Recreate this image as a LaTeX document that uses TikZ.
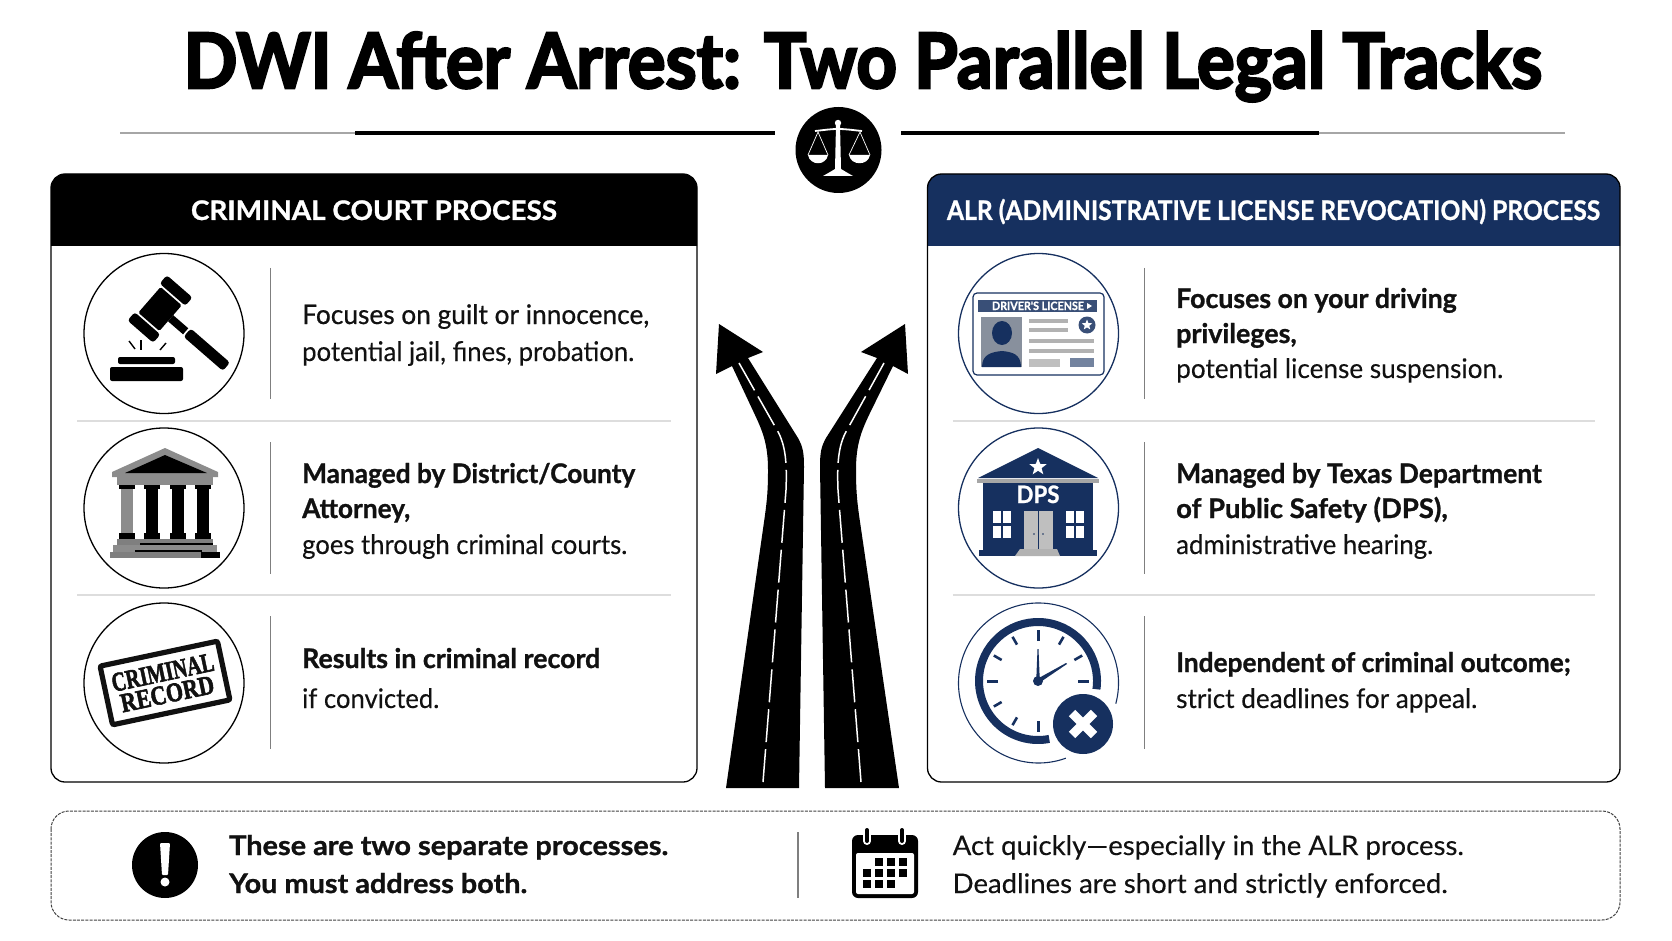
\documentclass[tikz,border=0pt]{standalone}
\usepackage{fontspec}
\setmainfont{Lato}
\newfontfamily\titlefont[FakeBold=3.4]{Lato Bold}
\newfontfamily\boldfont[FakeBold=1.0]{Lato Bold}
\newfontfamily\medfont[FakeBold=0.7]{Lato}
\newfontfamily\bodyfont[FakeBold=0.25]{Lato}
\newfontfamily\stampfont[FakeBold=2.2]{Liberation Serif Bold}
\usetikzlibrary{shapes.geometric}
\definecolor{navy}{HTML}{16305F}
\definecolor{ink}{HTML}{111111}
\definecolor{sepgray}{HTML}{DDDDDD}
\definecolor{stonegray}{HTML}{7F7F7F}
\newcommand{\fitw}[2]{\resizebox{#1pt}{\height}{#2}}

\begin{document}
\begin{tikzpicture}
[x=1pt,y=-1pt,
 txt/.style={anchor=base west,inner sep=0pt,text=ink},
 plaintxt/.style={txt,font=\bodyfont\fontsize{27}{30}\selectfont},
 medtxt/.style={txt,font=\medfont\fontsize{27}{30}\selectfont},
 boldtxt/.style={txt,font=\boldfont\fontsize{27}{30}\selectfont},
 headtxt/.style={anchor=base,inner sep=0pt,text=white,font=\boldfont\fontsize{27}{30}\selectfont},
 stamptxt/.style={anchor=base,inner sep=0pt,transform shape,text=ink,font=\stampfont\fontsize{27}{28}\selectfont},
 ring/.style={draw=black,line width=1.3pt},
 navyring/.style={draw=navy,line width=1.3pt},
 panel/.style={draw=black,line width=1.3pt,rounded corners=14pt},
 sep/.style={draw=stonegray,line width=1.1pt},
 rowline/.style={draw=sepgray,line width=1.8pt},
 lane/.style={draw=white,line width=1.5pt,dash pattern=on 33pt off 7pt}]

\useasboundingbox (0,0) rectangle (1672,941);

% title and rule
\draw (183.5,88) node (title) [txt,font=\titlefont\fontsize{76}{80}\selectfont,text=black]
	{\fitw{1358}{DWI After Arrest: Two Parallel Legal Tracks}};
\draw [gray!70,line width=1.6pt] (120,133) -- (355,133);
\draw [gray!70,line width=1.6pt] (1319,133) -- (1565,133);
\draw [black,line width=3.6pt] (355,133) -- (775,133);
\draw [black,line width=3.6pt] (901,133) -- (1319,133);

% scales
\fill [black] (838.5,150) circle (43);
\fill [white] (838,123) circle (3.2);
\fill [white] (836,125) -- (840,125) -- (841,169) -- (846,172) -- (853,176) -- (823,176) -- (830,172) -- (835,169) -- cycle;
\draw [white,line width=1.8pt] (815,131) .. controls (825,130) and (830,129) .. (838,129) .. controls (846,129) and (852,130) .. (862,131);
\draw [white,line width=0.7pt] (808,155) -- (818,132) -- (828,155);
\draw [white,line width=0.7pt] (849,155) -- (860,132) -- (870,155);
\fill [white] (808,155) .. controls (810,166) and (826,166) .. (828,155) -- cycle;
\fill [white] (849,155) .. controls (851,166) and (868,166) .. (870,155) -- cycle;

% left panel
\fill [black,rounded corners=14pt] (51,246) -- (51,174) -- (697,174) -- (697,246) [sharp corners] -- (697,246) -- cycle;
\fill [black] (51,200) rectangle (697,246);
\draw [panel] (51,174) rectangle (697,782);
\draw (374,220) node (crimhead) [headtxt] {\fitw{366}{CRIMINAL COURT PROCESS}};
\draw [rowline] (77,421) -- (671,421);
\draw [rowline] (77,595) -- (671,595);
\foreach \y in {333.5,508,683}
	\draw [ring] (164,\y) circle (80);
\draw [sep] (270.5,268) -- (270.5,399);
\draw [sep] (270.5,442) -- (270.5,574);
\draw [sep] (270.5,616) -- (270.5,749);

\draw (302,324) node (crima) [medtxt] {\fitw{347}{Focuses on guilt or innocence,}};
\draw (302,361) node (crimb) [plaintxt] {\fitw{332}{potential jail, fines, probation.}};
\draw (302,483) node (crimc) [boldtxt] {\fitw{333}{Managed by District/County}};
\draw (302,518) node (crimd) [boldtxt] {\fitw{108}{Attorney,}};
\draw (302,554) node (crime) [plaintxt] {\fitw{325}{goes through criminal courts.}};
\draw (302,668) node (crimf) [boldtxt] {\fitw{298}{Results in criminal record}};
\draw (302,708) node (crimg) [plaintxt] {\fitw{137}{if convicted.}};

% gavel
\begin{scope}[shift={(160,309)},rotate=-41]
\fill [black,rounded corners=1.5pt] (-14,-17) rectangle (14,17);
\fill [black,rounded corners=3pt] (-17,19) rectangle (17,30);
\fill [black,rounded corners=3pt] (-17,-30) rectangle (17,-19);
\fill [black] (14,-4) rectangle (34,4);
\fill [black,rounded corners=3pt] (36,-5.5) rectangle (88,5.5);
\end{scope}
\fill [black,rounded corners=2pt] (118,357) rectangle (175,364);
\fill [black,rounded corners=2pt] (110,367) rectangle (183,381);
\draw [black,line width=1.4pt] (129,341) -- (135,349);
\draw [black,line width=1.4pt] (141,340) -- (141,350);
\draw [black,line width=1.4pt] (166,343) -- (160,350);

% courthouse
\fill [stonegray!90] (165,448) -- (218,472) -- (218,477) -- (112,477) -- (112,472) -- cycle;
\fill [black] (165,455) -- (207,473) -- (125,473) -- cycle;
\fill [stonegray!90] (117,477) rectangle (213,485);
\foreach \x in {127,152,178,203} {
	\fill [black] (\x-8,485) rectangle (\x+8,489);
	\fill [black] (\x-6,489) rectangle (\x+6,533);
	\fill [black] (\x-8,533) rectangle (\x+8,539);
}
\fill [stonegray!90] (121,489) rectangle (133,533);
\fill [stonegray] (117,539) rectangle (213,545);
\fill [stonegray!90] (113,545) rectangle (217,552);
\fill [stonegray] (110,552) rectangle (220,558);
\draw [black,line width=1.2pt] (140,544) -- (213,544);
\draw [black,line width=1.2pt] (135,551) -- (202,551);
\fill [black] (201,552) rectangle (220,558);

% stamp
\begin{scope}[shift={(165,683)},rotate=12]
\draw [ink,line width=5.2pt,rounded corners=2pt] (-60,-30) rectangle (60,30);
\draw (0,-2) node (stampa) [stamptxt] {\fitw{104}{CRIMINAL}};
\draw (0,20) node (stampb) [stamptxt] {\fitw{95}{RECORD}};
\end{scope}

% right panel
\fill [navy,rounded corners=14pt] (927.5,246) -- (927.5,174) -- (1620,174) -- (1620,246) [sharp corners] -- (1620,246) -- cycle;
\fill [navy] (927.5,200) rectangle (1620,246);
\draw [panel] (927.5,174) rectangle (1620,782);
\draw (1273.5,220) node (alrhead) [headtxt] {\fitw{653}{ALR (ADMINISTRATIVE LICENSE REVOCATION) PROCESS}};
\draw [rowline] (952.5,421) -- (1595,421);
\draw [rowline] (952.5,595) -- (1595,595);
\draw [navyring] (1038.5,333.5) circle (80);
\draw [navyring] (1038.5,508) circle (80);
\draw [sep] (1144.5,268) -- (1144.5,399);
\draw [sep] (1144.5,442) -- (1144.5,574);
\draw [sep] (1144.5,616) -- (1144.5,749);

\draw (1176,308) node (alra) [boldtxt] {\fitw{280.5}{Focuses on your driving}};
\draw (1176,343) node (alrb) [boldtxt] {\fitw{120.5}{privileges,}};
\draw (1176,378) node (alrc) [plaintxt] {\fitw{327}{potential license suspension.}};
\draw (1176,483) node (alrd) [boldtxt] {\fitw{365.5}{Managed by Texas Department}};
\draw (1176,518) node (alre) [boldtxt] {\fitw{271.5}{of Public Safety (DPS),}};
\draw (1176,554) node (alrf) [plaintxt] {\fitw{257}{administrative hearing.}};
\draw (1176,672) node (alrg) [boldtxt] {\fitw{394.5}{Independent of criminal outcome;}};
\draw (1176,708) node (alrh) [plaintxt] {\fitw{301}{strict deadlines for appeal.}};

% licence card
\draw [navy,line width=1.2pt,rounded corners=4pt] (973,293) rectangle (1104,375);
\fill [navy!85] (978,300) rectangle (1097,312);
\draw (1038,310) node (cardhead) [anchor=base,inner sep=0pt,text=white,font=\boldfont\fontsize{11.5}{12}\selectfont] {\fitw{92}{DRIVER'S LICENSE}};
\fill [white] (1087,303) -- (1092,306) -- (1087,309) -- cycle;
\fill [navy!40!gray!70] (981,317) rectangle (1022,367);
\fill [navy] (1002,333) ellipse (10 and 12);
\fill [navy] (982,367) .. controls (982,354) and (992,352) .. (1002,351) .. controls (1012,352) and (1021,354) .. (1021,367) -- cycle;
\fill [gray!60] (1029,319) rectangle (1068,323);
\fill [gray!60] (1029,328) rectangle (1068,332);
\fill [gray!60] (1029,339) rectangle (1094,343);
\fill [gray!60] (1029,349) rectangle (1094,353);
\fill [gray!50] (1029,359) rectangle (1060,367);
\fill [navy!60] (1070,358) rectangle (1094,367);
\fill [navy!85] (1087,325) circle (8.5);
\draw (1087,325) node (cardstar) [star,star points=5,star point ratio=2.3,fill=white,minimum size=11pt,inner sep=0pt] {};

% dps building
\fill [navy] (1038,448) -- (1098,478) -- (978,478) -- cycle;
\draw (1038,467) node (dpsstar) [star,star points=5,star point ratio=2.4,fill=white,minimum size=18pt,inner sep=0pt] {};
\fill [gray!70] (977,479) rectangle (1099,483);
\fill [navy] (983,483) rectangle (1093,550);
\fill [navy] (979,550) rectangle (1097,556);
\draw (1038,503) node (dpstxt) [anchor=base,inner sep=0pt,text=white,font=\boldfont\fontsize{24}{26}\selectfont] {\fitw{43}{DPS}};
\fill [gray!50] (1024,511) rectangle (1053,549);
\draw [navy,line width=1pt] (1038.5,511) -- (1038.5,549);
\fill [navy] (1034,534) circle (0.9);
\fill [navy] (1043,534) circle (0.9);
\fill [gray!60] (1020,549) -- (1057,549) -- (1060,556) -- (1015,556) -- cycle;
\foreach \x in {993,1066} {
	\fill [white] (\x,511) rectangle (\x+8,523);
	\fill [white] (\x+10,511) rectangle (\x+18,523);
	\fill [white] (\x,526) rectangle (\x+8,538);
	\fill [white] (\x+10,526) rectangle (\x+18,538);
}

% clock
\draw [navy,line width=1.1pt] ([shift={(-15:80pt)}]1038.5,683) arc [start angle=-15,end angle=290,radius=80pt];
\draw [navy,line width=8pt] ([shift={(-8:59pt)}]1038,681) arc [start angle=-8,end angle=281,radius=59pt];
\begin{scope}[shift={(1038,681)}]
\foreach \a in {0,90,180,270}
	\draw [navy,line width=3pt] (\a:40pt) -- (\a:51pt);
\foreach \a in {30,60,120,150,210,240,300,330}
	\draw [navy,line width=2.6pt] (\a:42pt) -- (\a:51pt);
\fill [navy] (-1.8,0) -- (-0.5,-32) -- (0.5,-32) -- (1.8,0) -- cycle;
\fill [navy] (-1,-2) -- (28,-18) -- (29,-17) -- (1,2) -- cycle;
\fill [navy] (0,0) circle (5);
\end{scope}
\fill [white] (1083,724) circle (34);
\fill [navy] (1083,724) circle (30);
\draw [white,line width=9pt] (1072,713) -- (1094,735);
\draw [white,line width=9pt] (1094,713) -- (1072,735);

% roads
\fill [black] (726,788) -- (799,788) -- (804,467) .. controls (804,453) and (803,447) .. (798,438) -- (748,358)
	-- (763,352) -- (719,324) -- (716,374) -- (732,366) -- (755,415) .. controls (763,432) and (768,445) .. (768,470) .. controls (768,490) and (767,500) .. (765,515) -- cycle;
\draw [lane] (763,782) -- (786,490) .. controls (787,465) and (786,445) .. (777,430) -- (739,363);
\fill [black] (899,788) -- (825,788) -- (820,467) .. controls (820,453) and (821,447) .. (826,438) -- (877,358)
	-- (861,352) -- (905,324) -- (908,374) -- (893,366) -- (869,415) .. controls (861,432) and (856,445) .. (856,470) .. controls (856,490) and (857,500) .. (859,515) -- cycle;
\draw [lane] (861,782) -- (838,490) .. controls (837,465) and (838,445) .. (847,430) -- (884,363);

% bottom note
\draw [draw=black!75,line width=1pt,dash pattern=on 3pt off 1.2pt,rounded corners=18pt] (51,811) rectangle (1620,920);
\draw [sep] (798,832) -- (798,898);
\fill [black] (165,865) circle (33);
\fill [white,rounded corners=1pt] (160,843) -- (170,843) -- (168,875) -- (162,875) -- cycle;
\fill [white] (165,882) circle (4.5);
\draw (229,855) node (notea) [boldtxt] {\fitw{439}{These are two separate processes.}};
\draw (229,893) node (noteb) [boldtxt] {\fitw{298}{You must address both.}};
\draw (952.5,855) node (notec) [plaintxt] {\fitw{511}{Act quickly—especially in the ALR process.}};
\draw (952.5,893) node (noted) [plaintxt] {\fitw{495}{Deadlines are short and strictly enforced.}};

% calendar
\fill [black,rounded corners=6pt] (852,835) rectangle (918,898);
\fill [white,rounded corners=2pt] (856,853) rectangle (914,894);
\foreach \x in {867,902} {
	\draw [white,line width=8pt,line cap=round] (\x,831) -- (\x,841);
	\draw [black,line width=4pt,line cap=round] (\x,830) -- (\x,841);
}
\foreach \x/\y in {879/862,891/862,903/862,867/873,879/873,891/873,903/873,867/884,879/884,891/884}
	\fill [black] (\x-4,\y-4) rectangle (\x+4,\y+4);
\end{tikzpicture}
\end{document}
